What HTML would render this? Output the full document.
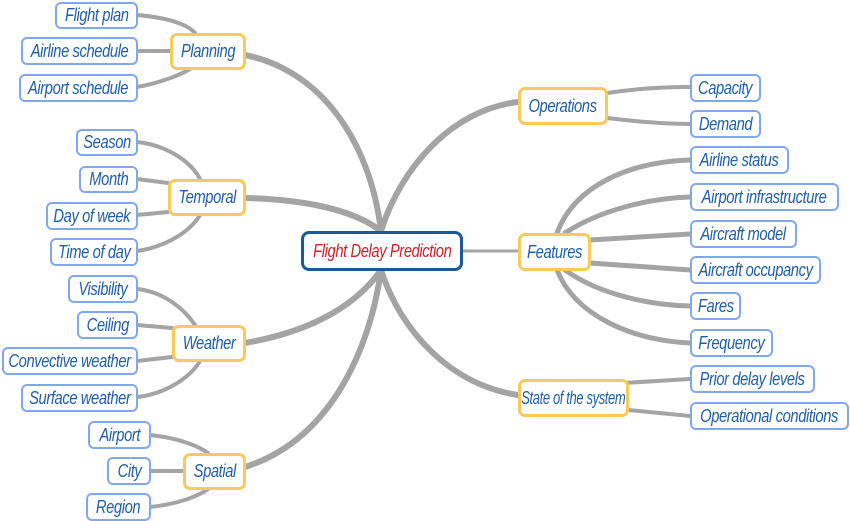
<!DOCTYPE html>
<html><head><meta charset="utf-8"><style>
body{margin:0;width:850px;height:521px;background:#fff;position:relative;overflow:hidden;font-family:"Liberation Sans",sans-serif;}
.b{position:absolute;box-sizing:border-box;border:2px solid #7fa8f0;border-radius:6px;background:#fff;color:#1f5fa6;font-style:italic;font-size:18px;display:flex;align-items:center;justify-content:center;white-space:nowrap;letter-spacing:-0.5px}
.b span{display:inline-block;transform:scaleX(0.82)}
.c{border:3px solid #fbc95a;border-radius:7px}
.m{border:3px solid #1a5a9a;border-radius:8px;color:#d0202a}
svg{position:absolute;left:0;top:0}
</style></head><body>
<svg width="850" height="521" fill="none" stroke="#a4a4a4" stroke-linecap="round">
<g stroke-width="6">
<path d="M245 55 C320 70 370 140 381 231"/>
<path d="M245 198 C320 200 360 215 381 231"/>
<path d="M245 343 C320 330 360 300 381 270"/>
<path d="M245 467 C330 440 370 350 381 270"/>
<path d="M518 102 C450 110 400 170 381 231"/>
<path d="M518 395 C450 385 400 330 381 270"/>
</g>
<path d="M462 251 L518 251" stroke-width="3"/>
<g stroke-width="4">
<path d="M137 15 C160 17 185 22 195 33"/>
<path d="M137 51 L170 51"/>
<path d="M137 87 C160 83 180 75 190 69"/>
<path d="M137 142 C165 145 190 160 200 179"/>
<path d="M137 179 L168 183"/>
<path d="M137 215 L168 212"/>
<path d="M137 251 C165 247 190 232 200 215"/>
<path d="M137 289 C165 292 185 310 195 325"/>
<path d="M137 325 L172 328"/>
<path d="M137 361 L172 357"/>
<path d="M137 397 C165 394 190 378 200 361"/>
<path d="M150 435 C180 438 200 447 208 453"/>
<path d="M150 471 L183 471"/>
<path d="M150 507 C180 504 200 495 208 489"/>
<path d="M607 93 C640 88 665 87 690 87"/>
<path d="M607 118 C640 122 665 124 690 124"/>
<path d="M607 384 L690 379"/>
<path d="M628 410 L690 416"/>
</g>
<g stroke-width="5">
<path d="M557 233 C575 185 630 162 690 160"/>
<path d="M565 233 C600 210 650 198 690 197"/>
<path d="M590 240 L690 234"/>
<path d="M590 263 L690 270"/>
<path d="M565 270 C600 295 650 305 690 306"/>
<path d="M557 270 C575 315 630 340 690 343"/>
</g>
</svg>
<div class="b" style="left:55px;top:2px;width:83px;height:27px"><span>Flight plan</span></div>
<div class="b" style="left:21px;top:37px;width:117px;height:28px"><span>Airline schedule</span></div>
<div class="b" style="left:19px;top:74px;width:119px;height:28px"><span>Airport schedule</span></div>
<div class="b c" style="left:170px;top:33px;width:76px;height:37px"><span>Planning</span></div>
<div class="b" style="left:76px;top:129px;width:62px;height:27px"><span>Season</span></div>
<div class="b" style="left:79px;top:166px;width:59px;height:27px"><span>Month</span></div>
<div class="b" style="left:46px;top:202px;width:92px;height:28px"><span>Day of week</span></div>
<div class="b" style="left:50px;top:238px;width:88px;height:28px"><span>Time of day</span></div>
<div class="b c" style="left:168px;top:179px;width:78px;height:37px"><span>Temporal</span></div>
<div class="b" style="left:68px;top:275px;width:70px;height:28px"><span>Visibility</span></div>
<div class="b" style="left:77px;top:311px;width:61px;height:28px"><span>Ceiling</span></div>
<div class="b" style="left:2px;top:347px;width:136px;height:28px"><span>Convective weather</span></div>
<div class="b" style="left:21px;top:384px;width:117px;height:28px"><span>Surface weather</span></div>
<div class="b c" style="left:172px;top:325px;width:74px;height:37px"><span>Weather</span></div>
<div class="b" style="left:88px;top:421px;width:63px;height:28px"><span>Airport</span></div>
<div class="b" style="left:107px;top:457px;width:44px;height:28px"><span>City</span></div>
<div class="b" style="left:86px;top:493px;width:65px;height:28px"><span>Region</span></div>
<div class="b c" style="left:183px;top:453px;width:63px;height:37px"><span>Spatial</span></div>
<div class="b m" style="left:301px;top:231px;width:162px;height:40px"><span>Flight Delay Prediction</span></div>
<div class="b c" style="left:518px;top:87px;width:90px;height:38px"><span>Operations</span></div>
<div class="b" style="left:690px;top:74px;width:71px;height:28px"><span>Capacity</span></div>
<div class="b" style="left:690px;top:110px;width:71px;height:28px"><span>Demand</span></div>
<div class="b c" style="left:518px;top:233px;width:73px;height:38px"><span>Features</span></div>
<div class="b" style="left:690px;top:146px;width:99px;height:28px"><span>Airline status</span></div>
<div class="b" style="left:690px;top:183px;width:149px;height:28px"><span>Airport infrastructure</span></div>
<div class="b" style="left:690px;top:220px;width:107px;height:28px"><span>Aircraft model</span></div>
<div class="b" style="left:690px;top:256px;width:131px;height:28px"><span>Aircraft occupancy</span></div>
<div class="b" style="left:690px;top:292px;width:51px;height:28px"><span>Fares</span></div>
<div class="b" style="left:690px;top:329px;width:83px;height:28px"><span>Frequency</span></div>
<div class="b c" style="left:518px;top:379px;width:111px;height:38px"><span style="transform:scaleX(0.72)">State of the system</span></div>
<div class="b" style="left:690px;top:365px;width:125px;height:28px"><span>Prior delay levels</span></div>
<div class="b" style="left:690px;top:402px;width:159px;height:28px"><span>Operational conditions</span></div>
</body></html>
